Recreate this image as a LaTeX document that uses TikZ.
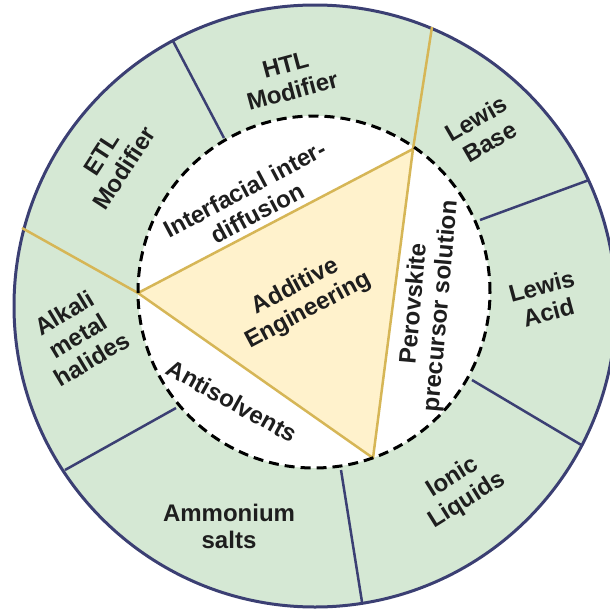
\documentclass[tikz,border=0pt]{standalone}
\usepackage{fontspec}
\setmainfont{Liberation Sans}
\definecolor{ringgreen}{HTML}{D5E8D4}
\definecolor{navy}{HTML}{3B3F73}
\definecolor{gold}{HTML}{D6B656}
\definecolor{trifill}{HTML}{FFF2CC}
\definecolor{labtext}{HTML}{1E1E1E}
\begin{document}
\begin{tikzpicture}[x=1pt,y=-1pt,
  lab/.style={font=\fontsize{24}{27}\selectfont\bfseries, align=center, text=labtext, inner sep=0pt},
  divider/.style={navy, line width=2.5pt},
  goldline/.style={gold, line width=2.5pt, line join=round},
  dashring/.style={black, line width=3pt, dash pattern=on 10pt off 6pt}]
\useasboundingbox (0,0) rectangle (610,613);
\clip (0,0) rectangle (610,613);
\coordinate (oc) at (315,306);
\coordinate (ic) at (314,292);
% ring
\fill[ringgreen] (oc) circle (301pt);
\fill[white] (ic) circle (176pt);
% dividers
\coordinate (d1i) at (224,138); \coordinate (d1o) at (173,41);
\coordinate (d2i) at (480,220); \coordinate (d2o) at (589,180);
\coordinate (d3i) at (472,380); \coordinate (d3o) at (583,446);
\coordinate (d4i) at (341,470); \coordinate (d4o) at (362,602);
\coordinate (d5i) at (176,408); \coordinate (d5o) at (65,470);
\draw[divider] (d1i) -- (d1o);
\draw[divider] (d2i) -- (d2o);
\draw[divider] (d3i) -- (d3o);
\draw[divider] (d4i) -- (d4o);
\draw[divider] (d5i) -- (d5o);
\draw[navy, line width=3pt] (oc) circle (301pt);
% triangle
\coordinate (t1) at (413,149);
\coordinate (t2) at (138,293);
\coordinate (t3) at (373,458);
\coordinate (g1) at (432,27);
\coordinate (g2) at (22,228);
\fill[trifill] (t1) -- (t2) -- (t3) -- cycle;
\draw[goldline] (t1) -- (t2) -- (t3) -- cycle;
\draw[goldline] (t1) -- (g1);
\draw[goldline] (t2) -- (g2);
\draw[dashring] (ic) circle (176pt);
% labels
\node[lab, rotate=15] (htl) at (289,78) {HTL\\Modifier};
\node[lab, rotate=57] (etl) at (113,161) {ETL\\Modifier};
\node[lab, rotate=30] (lb) at (483,130) {Lewis\\Base};
\node[lab, rotate=15] (la) at (545,299) {Lewis\\Acid};
\node[lab, rotate=32] (il) at (460,489) {Ionic\\Liquids};
\node[lab] (am) at (229,526) {Ammonium\\salts};
\node[lab, rotate=31] (ak) at (78,336) {Alkali\\metal\\halides};
\node[lab, rotate=28] (inter) at (251,201) {Interfacial inter-\\diffusion};
\node[lab, rotate=28] (ae) at (302,299) {Additive\\Engineering};
\node[lab, rotate=85] (ps) at (428,305) {Perovskite\\precursor solution};
\node[lab, rotate=-29] (as) at (232,401) {Antisolvents};
\end{tikzpicture}
\end{document}
